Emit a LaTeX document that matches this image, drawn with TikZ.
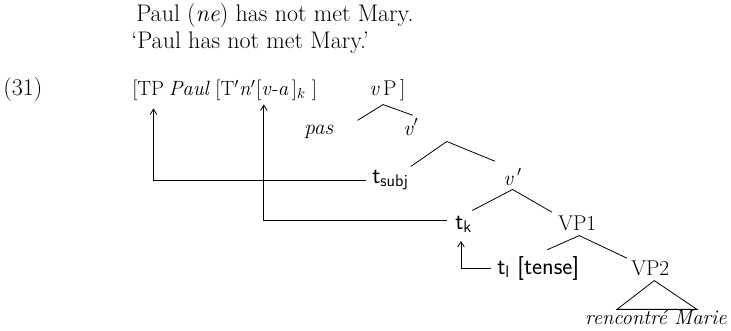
\documentclass[tikz,border=0pt]{standalone}
\usepackage{amsmath}
\usepackage{tikz}
\usetikzlibrary{arrows.meta,calc}

\tikzset{
  word/.style={inner sep=0pt,anchor=base west},
  gloss/.style={word,font=\fontsize{18}{21}\selectfont},
  trace/.style={word,font=\fontsize{18}{21}\sffamily},
  branch/.style={line width=0.6pt},
  move/.style={->,line width=0.6pt}
}

\begin{document}
\begin{tikzpicture}[x=0.75pt,y=-0.75pt,>={Straight Barb[length=4pt,width=5pt]},
    font=\fontsize{16}{19}\selectfont]
  \useasboundingbox (0,0) rectangle (731,330);
  % example and gloss
  \node[gloss] (line1) at (136,21) {Paul (\textit{ne}) has not met Mary.};
  \node[gloss] (line2) at (131,48) {`Paul has not met Mary.'};
  \node[gloss] (exnum) at (3,95) {(31)};
  \begin{scope}[font=\fontsize{15.5}{18}\selectfont]
  \node[word] (tpl) at (132,95) {[TP};
  \node[word] (paul) at ($(tpl.base east)+(4,0)$) {\textit{Paul}};
  \node[word] (tbar) at ($(paul.base east)+(5,0)$) {[T$'$\textit{n}$'$};
  \node[word] (va) at ($(tbar.base east)+(0,0)$) {[\textit{v-a}\,]$_k$ ]};
  \end{scope}
  % tree
  \node[word] (vP) at (369,95) {\textit{v}\,P\,]};
  \node[word] (pas) at (304,134) {\textit{pas}};
  \node[word] (vbarA) at (403,135) {\textit{v}$'$};
  \node[trace] (tsubj) at (372,183) {t$_{\text{subj}}$};
  \node[word] (vbarB) at (503,185) {\textit{v}\,$'$};
  \node[trace] (tk) at (455,229) {t$_{\text{k}}$};
  \node[word] (VPa) at (558,230) {VP1};
  \node[trace] (tl) at (497,274) {t$_{\text{l}}$ [tense]};
  \node[word] (VPb) at (631,275) {VP2};
  \node[word,anchor=base,font=\fontsize{15.5}{18}\selectfont] (obj) at (656,324) {\textit{rencontré Marie}};
  \draw[branch] ($(pas.north east)+(24,-4)$) -- ($(vP.south west)+(14,4)$) -- ($(vbarA.north)+(2,-3)$);
  \draw[branch] ($(tsubj.north east)+(2,-3)$) -- ($(vbarA.south)+(36,6)$) -- ($(vbarB.north west)+(-8,-7)$);
  \draw[branch] ($(tk.north east)+(0,-5)$) -- ($(vbarB.south)+(0,4)$) -- ($(VPa.north west)+(-6,-3)$);
  \draw[branch] ($(tl.north)+(9,-6)$) -- ($(VPa.south)+(2,5)$) -- ($(VPb.north west)+(-4,-2)$);
  \draw[branch] ($(obj.north)+(-39,0)$) -- ($(VPb.south)+(4,5)$) -- ($(obj.north)+(41,0)$) -- cycle;
  % movement
  \draw[move] ($(tsubj.west)+(-6,0)$) -| ($(tpl.south east)+(-11,8)$);
  \draw[move] ($(tk.west)+(-8,-4)$) -| ($(va.south west)+(8,4)$);
  \draw[move] ($(tl.west)+(-6,0)$) -| ($(tk.south west)+(6,8)$);
\end{tikzpicture}
\end{document}
